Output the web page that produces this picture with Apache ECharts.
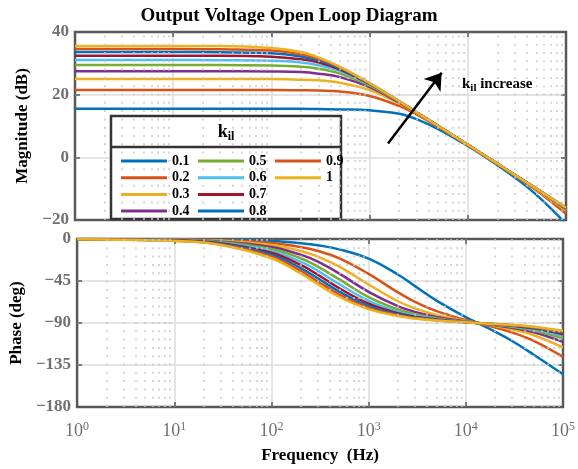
<!DOCTYPE html>
<html>
<head>
<meta charset="utf-8">
<script src="https://cdn.jsdelivr.net/npm/echarts@6/dist/echarts.min.js"></script>
<style>
  html, body { margin: 0; background: #fff; }
  #main { width: 578px; height: 469px; }
</style>
</head>
<body>
<div id="main"></div>
<script>
// frequency points (Hz)
var freq = [1, 10, 30, 100, 200, 300, 500, 1000, 2000, 3000, 5000, 10000, 20000, 30000, 50000, 100000];
var kNames = ['0.1', '0.2', '0.3', '0.4', '0.5', '0.6', '0.7', '0.8', '0.9', '1'];
var colors = ['#0072BD', '#D95319', '#EDB120', '#7E2F8E', '#77AC30', '#4DBEEE', '#A2142F', '#0072BD', '#D95319', '#EDB120'];

// magnitude (dB)
var magK01 = [15.5, 15.5, 15.5, 15.5, 15.5, 15.4, 15.3, 15.0, 13.9, 12.2, 9.0, 3.6, -2.5, -6.4, -12.0, -21.2];
var magK02 = [21.5, 21.5, 21.5, 21.5, 21.4, 21.3, 21.0, 19.6, 16.4, 13.7, 9.7, 3.9, -2.1, -5.8, -10.6, -18.0];
var magK03 = [25.0, 25.0, 25.0, 25.0, 24.8, 24.6, 23.8, 21.5, 17.2, 14.1, 9.9, 4.0, -2.1, -5.7, -10.3, -17.0];
var magK04 = [27.5, 27.5, 27.5, 27.4, 27.2, 26.7, 25.6, 22.4, 17.5, 14.3, 9.9, 4.0, -2.1, -5.6, -10.1, -16.6];
var magK05 = [29.5, 29.5, 29.5, 29.3, 28.9, 28.3, 26.7, 22.9, 17.7, 14.3, 10.0, 4.0, -2.1, -5.6, -10.1, -16.4];
var magK06 = [31.1, 31.1, 31.0, 30.8, 30.3, 29.4, 27.5, 23.2, 17.8, 14.4, 10.0, 4.0, -2.0, -5.6, -10.1, -16.3];
var magK07 = [32.4, 32.4, 32.4, 32.1, 31.3, 30.3, 28.0, 23.4, 17.8, 14.4, 10.0, 4.0, -2.0, -5.6, -10.0, -16.2];
var magK08 = [33.6, 33.6, 33.5, 33.2, 32.2, 31.0, 28.4, 23.5, 17.9, 14.4, 10.0, 4.0, -2.0, -5.6, -10.0, -16.2];
var magK09 = [34.6, 34.6, 34.5, 34.1, 32.9, 31.5, 28.7, 23.6, 17.9, 14.4, 10.0, 4.0, -2.0, -5.6, -10.0, -16.1];
var magK10 = [35.5, 35.5, 35.5, 34.9, 33.6, 31.9, 28.9, 23.7, 17.9, 14.4, 10.0, 4.0, -2.0, -5.6, -10.0, -16.1];

// phase (deg)
var phK01 = [0, -0.2, -0.7, -2.2, -4.5, -6.7, -11.1, -21.0, -38.0, -50.5, -66.0, -83.7, -99.2, -109.3, -124.0, -145.0];
var phK02 = [0, -0.4, -1.3, -4.3, -8.6, -12.8, -20.8, -37.4, -57.2, -67.4, -77.3, -86.8, -94.8, -100.2, -109.2, -126.3];
var phK03 = [0, -0.6, -1.9, -6.5, -12.8, -18.8, -29.6, -48.7, -66.7, -74.4, -81.4, -87.8, -93.2, -96.9, -103.1, -116.2];
var phK04 = [-0.1, -0.9, -2.6, -8.6, -16.8, -24.3, -37.1, -56.6, -72.0, -78.2, -83.5, -88.4, -92.4, -95.2, -99.9, -110.3];
var phK05 = [-0.1, -1.1, -3.2, -10.7, -20.6, -29.5, -43.3, -62.2, -75.5, -80.5, -84.8, -88.7, -91.9, -94.2, -98.0, -106.5];
var phK06 = [-0.1, -1.3, -3.9, -12.7, -24.3, -34.1, -48.5, -66.2, -77.8, -82.0, -85.7, -88.9, -91.6, -93.5, -96.7, -103.9];
var phK07 = [-0.2, -1.5, -4.5, -14.8, -27.8, -38.3, -52.8, -69.3, -79.5, -83.2, -86.3, -89.1, -91.4, -93.0, -95.7, -102.0];
var phK08 = [-0.2, -1.7, -5.2, -16.8, -31.1, -42.1, -56.4, -71.7, -80.8, -84.0, -86.7, -89.2, -91.2, -92.6, -95.0, -100.5];
var phK09 = [-0.2, -1.9, -5.8, -18.7, -34.1, -45.5, -59.5, -73.6, -81.8, -84.7, -87.1, -89.3, -91.1, -92.3, -94.5, -99.4];
var phK10 = [-0.2, -2.2, -6.4, -20.6, -37.0, -48.5, -62.0, -75.2, -82.6, -85.2, -87.4, -89.3, -91.0, -92.1, -94.0, -98.4];

var magData = [magK01, magK02, magK03, magK04, magK05, magK06, magK07, magK08, magK09, magK10];
var phData = [phK01, phK02, phK03, phK04, phK05, phK06, phK07, phK08, phK09, phK10];

// arrow annotation ends [Hz, dB]
var arrowFrom = [1540, 4.4];
var arrowTo = [5420, 27];

var serif = "'Liberation Serif', 'Times New Roman', serif";

// dotted minor grid at 2..9 x 10^n
var minorX = [];
for (var d = 0; d < 5; d++) {
    for (var m = 2; m < 10; m++) minorX.push(m * Math.pow(10, d));
}

function pairs(ys) {
    return freq.map(function (f, i) { return [f, ys[i]]; });
}

function xAxisCfg(grid, pos, labels) {
    return {
        type: 'log', logBase: 10, min: 1, max: 100000, gridIndex: grid, position: pos,
        axisLine: {show: false, onZero: false},
        axisTick: {show: true, inside: true, length: 5, lineStyle: {color: '#595959', width: 1.5}},
        splitLine: {show: pos === 'bottom', showMinLine: false, showMaxLine: false,
            lineStyle: {color: '#dcdcdc', width: 1.5}},
        axisLabel: labels ? {
            show: true, margin: 14,
            formatter: function (v) {
                return '{b|10}{s|' + Math.round(Math.log10(v)) + '}';
            },
            rich: {
                b: {fontFamily: serif, fontSize: 18, color: '#707070'},
                s: {fontFamily: serif, fontSize: 12, color: '#707070', padding: [0, 0, 9, 0]}
            }
        } : {show: false}
    };
}

function yAxisCfg(grid, pos, min, max, step, name, gap) {
    var left = pos === 'left';
    return {
        type: 'value', gridIndex: grid, position: pos, min: min, max: max, interval: step,
        name: left ? name : '', nameLocation: 'middle', nameGap: gap,
        nameTextStyle: {fontFamily: serif, fontSize: 17, fontWeight: 'bold', color: '#000'},
        axisLine: {show: false, onZero: false},
        axisTick: {show: true, inside: true, length: 5, lineStyle: {color: '#595959', width: 1.5}},
        splitLine: {show: left, showMinLine: false, showMaxLine: false,
            lineStyle: {color: '#dcdcdc', width: 1.5}},
        axisLabel: left ? {
            show: true, margin: 6, fontFamily: serif, fontSize: 17, fontWeight: 'bold', color: '#707070',
            formatter: function (v) { return v < 0 ? '\u2212' + (-v) : '' + v; }
        } : {show: false}
    };
}

var series = [];
// minor dotted grid lines, top and bottom panel
[0, 1].forEach(function (g) {
    series.push({
        type: 'line', xAxisIndex: g * 2, yAxisIndex: g * 2, data: [], silent: true, z: 1,
        markLine: {
            silent: true, animation: false, symbol: ['none', 'none'], label: {show: false},
            lineStyle: {color: '#c8c8c8', width: 1.5, type: [2, 6.3]},
            data: minorX.map(function (v) { return {xAxis: v}; })
        }
    });
});

kNames.forEach(function (name, i) {
    var common = {
        name: name, type: 'line', smooth: 0.4, showSymbol: false, symbol: 'none',
        lineStyle: {width: 2.5, color: colors[i]}, itemStyle: {color: colors[i]},
        animation: false, z: 3
    };
    series.push(Object.assign({}, common, {xAxisIndex: 0, yAxisIndex: 0, data: pairs(magData[i])}));
    series.push(Object.assign({}, common, {xAxisIndex: 2, yAxisIndex: 2, data: pairs(phData[i])}));
});

// arrow annotation
series.push({
    type: 'line', xAxisIndex: 0, yAxisIndex: 0, data: [], silent: true, z: 4,
    markLine: {
        silent: true, animation: false, symbol: ['none', 'arrow'], symbolSize: 16,
        label: {show: false},
        lineStyle: {color: '#000', width: 2.5, type: 'solid'},
        itemStyle: {color: '#000'},
        data: [[{coord: arrowFrom}, {coord: arrowTo}]]
    }
});

function legendCol(left, names) {
    return {
        orient: 'vertical', left: left, top: 149, data: names, z: 10,
        icon: 'rect', itemWidth: 46, itemHeight: 3, itemGap: 2.7,
        textStyle: {fontFamily: serif, fontSize: 14, fontWeight: 'bold', color: '#000', lineHeight: 14},
        selectedMode: false
    };
}

var option = {
    backgroundColor: '#fff',
    animation: false,
    title: {
        text: 'Output Voltage Open Loop Diagram', left: 'center', top: 2,
        textStyle: {fontFamily: serif, fontSize: 19, fontWeight: 'bold', color: '#000'}
    },
    grid: [
        {left: 75, top: 32, width: 491, height: 188, show: true, borderColor: '#595959', borderWidth: 2.5, backgroundColor: '#fff'},
        {left: 75, top: 239, width: 491, height: 168, show: true, borderColor: '#595959', borderWidth: 2.5, backgroundColor: '#fff'}
    ],
    xAxis: [
        xAxisCfg(0, 'bottom', false), xAxisCfg(0, 'top', false),
        Object.assign(xAxisCfg(1, 'bottom', true), {
            name: 'Frequency  (Hz)', nameLocation: 'middle', nameGap: 40,
            nameTextStyle: {fontFamily: serif, fontSize: 17, fontWeight: 'bold', color: '#000'}
        }),
        xAxisCfg(1, 'top', false)
    ],
    yAxis: [
        yAxisCfg(0, 'left', -20, 40, 20, 'Magnitude (dB)', 32), yAxisCfg(0, 'right', -20, 40, 20, '', 0),
        yAxisCfg(1, 'left', -180, 0, 45, 'Phase (deg)', 42), yAxisCfg(1, 'right', -180, 0, 45, '', 0)
    ],
    legend: [
        legendCol(116, ['0.1', '0.2', '0.3', '0.4']),
        legendCol(193, ['0.5', '0.6', '0.7', '0.8']),
        legendCol(270, ['0.9', '1'])
    ],
    graphic: [
        {type: 'rect', z: 5, shape: {x: 111, y: 116, width: 230, height: 103},
            style: {fill: '#fff', stroke: '#333', lineWidth: 2.5}},
        {type: 'line', z: 6, shape: {x1: 111, y1: 147, x2: 341, y2: 147},
            style: {stroke: '#333', lineWidth: 2.5}},
        {type: 'text', z: 6, x: 226, y: 132,
            style: {text: '{k|k}{s|il}', align: 'center', verticalAlign: 'middle',
                rich: {k: {fontFamily: serif, fontSize: 18, fontWeight: 'bold', fill: '#000'},
                       s: {fontFamily: serif, fontSize: 12, fontWeight: 'bold', fill: '#000', padding: [10, 0, 0, 0]}}}},
        {type: 'text', z: 6, x: 462, y: 84,
            style: {text: '{k|k}{s|il}{k| increase}', align: 'left', verticalAlign: 'middle',
                rich: {k: {fontFamily: serif, fontSize: 15, fontWeight: 'bold', fill: '#000'},
                       s: {fontFamily: serif, fontSize: 11, fontWeight: 'bold', fill: '#000', padding: [9, 0, 0, 0]}}}}
    ],
    series: series
};

var chart = echarts.init(document.getElementById('main'));
chart.setOption(option);
</script>
</body>
</html>
